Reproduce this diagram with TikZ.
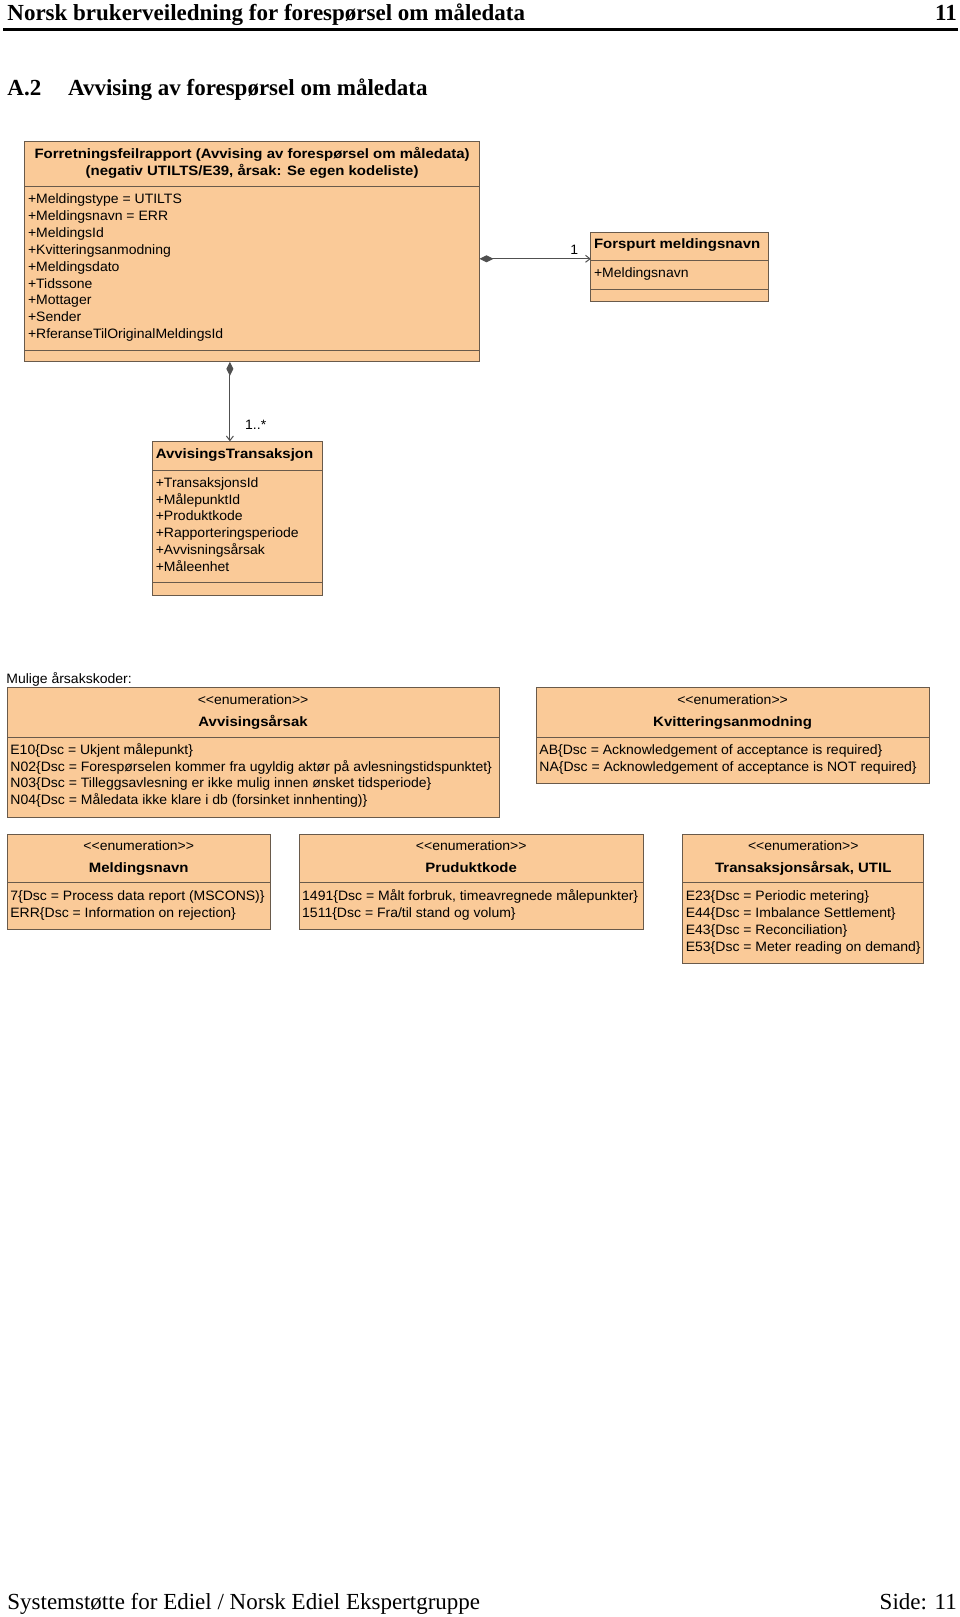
\documentclass[tikz,border=0pt]{standalone}
\usepackage{fontspec}
\setmainfont{Liberation Serif}
\newfontfamily\umlfont[FakeStretch=1.03]{Liberation Sans}
\newfontfamily\umlwide[FakeStretch=1.1]{Liberation Sans}
\usetikzlibrary{arrows.meta,calc}
\definecolor{boxfill}{RGB}{250,202,152}
\definecolor{boxline}{RGB}{105,90,75}
\definecolor{connline}{RGB}{80,80,80}
\newcommand\umlreg{\umlfont\fontsize{13.6}{16.9}\selectfont}
\newcommand\umlbf{\umlwide\bfseries\fontsize{13.6}{16.9}\selectfont}
\newcommand\hdrfont{\fontsize{23}{27}\selectfont\bfseries}
\newcommand\ftrfont{\fontsize{23}{27}\selectfont}
\tikzset{
  umlbox/.style={draw=boxline, fill=boxfill, line width=0.9pt, inner sep=0pt, outer sep=0pt, anchor=north west},
  compline/.style={draw=boxline, line width=0.9pt},
  attr/.style={anchor=base west, inner sep=0pt, font=\umlreg},
  cattr/.style={anchor=base, inner sep=0pt, font=\umlreg},
  ttl/.style={anchor=base, inner sep=0pt, font=\umlbf},
  lttl/.style={anchor=base west, inner sep=0pt, font=\umlbf},
  lbl/.style={inner sep=0pt, font=\umlreg},
  hdr/.style={inner sep=0pt, font=\hdrfont},
  ftr/.style={inner sep=0pt, font=\ftrfont},
  conn/.style={draw=connline, line width=1pt, {Diamond[length=14pt,width=7pt,fill=connline]}-{Straight Barb[length=4.5pt,width=7pt]}}
}
\begin{document}
\begin{tikzpicture}[x=1pt,y=-1pt]
\useasboundingbox (0,0) rectangle (960,1617);
\fill[white] (0,0) rectangle (960,1617);

% header
\node[hdr, anchor=base west] (hdr) at (7.2,20.5) {Norsk brukerveiledning for forespørsel om måledata};
\node[hdr, anchor=base east] (hdrpg) at (957,20.5) {11};
\draw[line width=3pt] (3,29) -- (958,29);
\node[hdr, anchor=base west] (secnum) at (7.2,95) {A.2};
\node[hdr, anchor=base west] (sectitle) at (68,95) {Avvising av forespørsel om måledata};

% footer
\node[ftr, anchor=base west] (ftr) at (7.2,1609) {Systemstøtte for Ediel / Norsk Ediel Ekspertgruppe};
\node[ftr, anchor=base east] (ftrpg) at (957,1609) {Side: 11};

% main class
\node[umlbox, minimum width=454.8pt, minimum height=220.6pt] (frap) at (24.7,141.3) {};
\draw[compline] ($(frap.north west)+(0,45.3)$) -- ($(frap.north east)+(0,45.3)$);
\draw[compline] ($(frap.north west)+(0,209.3)$) -- ($(frap.north east)+(0,209.3)$);
\node[ttl] (frapT1) at (252.1,158.5) {Forretningsfeilrapport (Avvising av forespørsel om måledata)};
\node[ttl] (frapT2) at (252.1,175) {(negativ UTILTS/E39, årsak: Se egen kodeliste)};
\node[attr] (fa1) at (27.8,203.5) {+Meldingstype = UTILTS};
\node[attr] (fa2) at (27.8,220.4) {+Meldingsnavn = ERR};
\node[attr] (fa3) at (27.8,237.3) {+MeldingsId};
\node[attr] (fa4) at (27.8,254.2) {+Kvitteringsanmodning};
\node[attr] (fa5) at (27.8,271.1) {+Meldingsdato};
\node[attr] (fa6) at (27.8,288.0) {+Tidssone};
\node[attr] (fa7) at (27.8,304.9) {+Mottager};
\node[attr] (fa8) at (27.8,321.8) {+Sender};
\node[attr] (fa9) at (27.8,338.7) {+RferanseTilOriginalMeldingsId};

% Forspurt meldingsnavn
\node[umlbox, minimum width=177.4pt, minimum height=69.1pt] (fsp) at (590.8,232) {};
\draw[compline] ($(fsp.north west)+(0,28.9)$) -- ($(fsp.north east)+(0,28.9)$);
\draw[compline] ($(fsp.north west)+(0,57.7)$) -- ($(fsp.north east)+(0,57.7)$);
\node[lttl] (fspT) at (593.8,248.9) {Forspurt meldingsnavn};
\node[attr] (fspA) at (593.8,277.7) {+Meldingsnavn};

\coordinate (c1) at (0,258.8);
\draw[conn] (frap.east |- c1) -- (fsp.west |- c1);
\node[lbl] (m1) at (574.3,249.5) {1};

% AvvisingsTransaksjon
\node[umlbox, minimum width=170.1pt, minimum height=153.7pt] (avt) at (152.6,441.3) {};
\draw[compline] ($(avt.north west)+(0,28.9)$) -- ($(avt.north east)+(0,28.9)$);
\draw[compline] ($(avt.north west)+(0,141.3)$) -- ($(avt.north east)+(0,141.3)$);
\node[lttl] (avtT) at (155.6,458.2) {AvvisingsTransaksjon};
\node[attr] (aa1) at (155.6,487.1) {+TransaksjonsId};
\node[attr] (aa2) at (155.6,504.0) {+MålepunktId};
\node[attr] (aa3) at (155.6,520.9) {+Produktkode};
\node[attr] (aa4) at (155.6,537.8) {+Rapporteringsperiode};
\node[attr] (aa5) at (155.6,554.7) {+Avvisningsårsak};
\node[attr] (aa6) at (155.6,571.6) {+Måleenhet};

\coordinate (c2) at (229.9,0);
\draw[conn] (frap.south -| c2) -- (avt.north -| c2);
\node[lbl] (m2) at (255.7,424.8) {1..*};

% enumerations
\node[attr] (mulige) at (6.2,683) {Mulige årsakskoder:};

\node[umlbox, minimum width=491.8pt, minimum height=130pt] (eav) at (7.2,687.7) {};
\draw[compline] ($(eav.north west)+(0,49.5)$) -- ($(eav.north east)+(0,49.5)$);
\node[cattr] (eavS) at (253.1,704) {<<enumeration>>};
\node[ttl] (eavT) at (253.1,726.5) {Avvisingsårsak};
\node[attr] (ev1) at (10.2,754.1) {E10\{Dsc = Ukjent målepunkt\}};
\node[attr] (ev2) at (10.2,771.0) {N02\{Dsc = Forespørselen kommer fra ugyldig aktør på avlesningstidspunktet\}};
\node[attr] (ev3) at (10.2,787.9) {N03\{Dsc = Tilleggsavlesning er ikke mulig innen ønsket tidsperiode\}};
\node[attr] (ev4) at (10.2,804.8) {N04\{Dsc = Måledata ikke klare i db (forsinket innhenting)\}};

\node[umlbox, minimum width=392.8pt, minimum height=95.9pt] (ekv) at (536.2,687.7) {};
\draw[compline] ($(ekv.north west)+(0,49.5)$) -- ($(ekv.north east)+(0,49.5)$);
\node[cattr] (ekvS) at (732.6,704) {<<enumeration>>};
\node[ttl] (ekvT) at (732.6,726.5) {Kvitteringsanmodning};
\node[attr] (ek1) at (539.2,754.1) {AB\{Dsc = Acknowledgement of acceptance is required\}};
\node[attr] (ek2) at (539.2,771.0) {NA\{Dsc = Acknowledgement of acceptance is NOT required\}};

\node[umlbox, minimum width=263pt, minimum height=94.8pt] (emn) at (7.2,834.2) {};
\draw[compline] ($(emn.north west)+(0,48.4)$) -- ($(emn.north east)+(0,48.4)$);
\node[cattr] (emnS) at (138.7,850.5) {<<enumeration>>};
\node[ttl] (emnT) at (138.7,872) {Meldingsnavn};
\node[attr] (em1) at (10.2,900.5) {7\{Dsc = Process data report (MSCONS)\}};
\node[attr] (em2) at (10.2,917.4) {ERR\{Dsc = Information on rejection\}};

\node[umlbox, minimum width=344.4pt, minimum height=94.8pt] (epk) at (299,834.2) {};
\draw[compline] ($(epk.north west)+(0,48.4)$) -- ($(epk.north east)+(0,48.4)$);
\node[cattr] (epkS) at (471.2,850.5) {<<enumeration>>};
\node[ttl] (epkT) at (471.2,872) {Pruduktkode};
\node[attr] (ep1) at (302,900.5) {1491\{Dsc = Målt forbruk, timeavregnede målepunkter\}};
\node[attr] (ep2) at (302,917.4) {1511\{Dsc = Fra/til stand og volum\}};

\node[umlbox, minimum width=241.3pt, minimum height=128.8pt] (eta) at (682.6,834.2) {};
\draw[compline] ($(eta.north west)+(0,48.4)$) -- ($(eta.north east)+(0,48.4)$);
\node[cattr] (etaS) at (803.3,850.5) {<<enumeration>>};
\node[ttl] (etaT) at (803.3,872) {Transaksjonsårsak, UTIL};
\node[attr] (et1) at (685.6,900.5) {E23\{Dsc = Periodic metering\}};
\node[attr] (et2) at (685.6,917.4) {E44\{Dsc = Imbalance Settlement\}};
\node[attr] (et3) at (685.6,934.3) {E43\{Dsc = Reconciliation\}};
\node[attr] (et4) at (685.6,951.2) {E53\{Dsc = Meter reading on demand\}};
\end{tikzpicture}
\end{document}
